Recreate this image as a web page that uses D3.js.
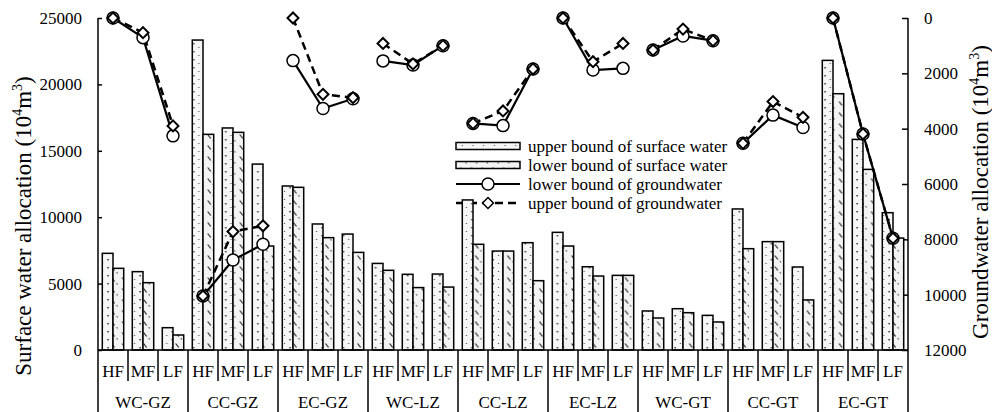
<!DOCTYPE html>
<html>
<head>
<meta charset="utf-8">
<script src="https://cdn.jsdelivr.net/npm/d3@7"></script>
<style>
  body { margin: 0; background: #fff; }
  svg text { font-family: "Liberation Serif", "Times New Roman", serif; fill: #000; }
</style>
</head>
<body>
<svg id="chart"></svg>
<script>
var groups = ["WC-GZ", "CC-GZ", "EC-GZ", "WC-LZ", "CC-LZ", "EC-LZ", "WC-GT", "CC-GT", "EC-GT"];
var subs = ["HF", "MF", "LF"];

// surface water (left axis), one value per group x sub
var surfaceUpper = [7280, 5900, 1680, 23340, 16720, 14000, 12350, 9490, 8730,
                    6520, 5700, 5720, 11300, 7450, 8080, 8860, 6270, 5620,
                    2940, 3110, 2610, 10620, 8160, 6250, 21810, 15860, 10340];
var surfaceLower = [6150, 5070, 1130, 16240, 16390, 7830, 12250, 8460, 7350,
                    6000, 4700, 4740, 7960, 7450, 5220, 7830, 5570, 5620,
                    2410, 2810, 2110, 7630, 8160, 3770, 19300, 13600, 8430];

// groundwater (right axis, reversed)
var groundLower = [0, 710, 4260, 10050, 8750, 8180, 1540, 3270, 2920,
                   1550, 1700, 1000, 3810, 3890, 1840, 0, 1880, 1820,
                   1160, 650, 820, 4530, 3510, 3960, 0, 4190, 7960];
var groundUpper = [0, 530, 3900, 10050, 7720, 7510, 0, 2760, 2880,
                   920, 1660, 1000, 3810, 3360, 1840, 0, 1580, 920,
                   1160, 400, 820, 4530, 3020, 3590, 0, 4190, 7960];

var leftTicks = [0, 5000, 10000, 15000, 20000, 25000];
var rightTicks = [0, 2000, 4000, 6000, 8000, 10000, 12000];

var width = 992;
var height = 412;
var margin = {top: 18, right: 84, bottom: 62, left: 98};
var plotBottom = height - margin.bottom;
var plotRight = width - margin.right;

var svg = d3.select("#chart")
  .attr("width", width)
  .attr("height", height);

// keys for the 27 categories
var keys = [];
groups.forEach(function(g) {
  subs.forEach(function(s) { keys.push(g + "|" + s); });
});

var x = d3.scaleBand()
  .domain(keys)
  .range([margin.left, plotRight]);

var xs = d3.scaleBand()
  .domain(["upper", "lower"])
  .range([0, x.bandwidth()])
  .paddingOuter(0.4);

var y = d3.scaleLinear()
  .domain([0, 25000])
  .range([plotBottom, margin.top]);

var y2 = d3.scaleLinear()
  .domain([0, 12000])
  .range([margin.top, plotBottom]);

// patterns
var defs = svg.append("defs");
var pUp = defs.append("pattern")
  .attr("id", "pUp")
  .attr("patternUnits", "userSpaceOnUse")
  .attr("width", 10.7).attr("height", 8);
pUp.append("rect").attr("width", 10.7).attr("height", 8).attr("fill", "#f6f6f6");
pUp.append("rect").attr("x", 0.4).attr("y", 3).attr("width", 1.4).attr("height", 1.4).attr("fill", "#222");
pUp.append("rect").attr("x", 5.7).attr("y", 7).attr("width", 1.2).attr("height", 1.2).attr("fill", "#555");

var pLow = defs.append("pattern")
  .attr("id", "pLow")
  .attr("patternUnits", "userSpaceOnUse")
  .attr("width", 10.7).attr("height", 11);
pLow.append("rect").attr("width", 10.7).attr("height", 11).attr("fill", "#f3f3f3");
pLow.append("path").attr("d", "M4.5,2.5 L7.5,6.5").attr("stroke", "#222").attr("stroke-width", 1.2);
pLow.append("path").attr("d", "M9.5,8 L10.7,9.6").attr("stroke", "#555").attr("stroke-width", 1);

var fmt = d3.format("d");

// axes
var yAxis = d3.axisLeft(y)
  .tickValues(leftTicks)
  .tickFormat(fmt)
  .tickSizeInner(-4)
  .tickSizeOuter(0)
  .tickPadding(16);

svg.append("g")
  .attr("id", "y")
  .attr("transform", "translate(" + margin.left + ",0)")
  .call(yAxis)
  .call(function(g) {
    g.select(".domain").remove();
    g.selectAll("text").style("font-size", "17px");
    g.selectAll("line").attr("stroke-width", 1.5);
  });

var y2Axis = d3.axisRight(y2)
  .tickValues(rightTicks)
  .tickFormat(fmt)
  .tickSizeInner(-6)
  .tickSizeOuter(0)
  .tickPadding(16);

svg.append("g")
  .attr("id", "y2")
  .attr("transform", "translate(" + plotRight + ",0)")
  .call(y2Axis)
  .call(function(g) {
    g.select(".domain").remove();
    g.selectAll("text").style("font-size", "17px");
    g.selectAll("line").attr("stroke-width", 1.5);
  });

// legend (drawn under the bars, like the reference)
var legendItems = [
  {label: "upper bound of surface water", type: "bar", fill: "url(#pUp)"},
  {label: "lower bound of surface water", type: "bar", fill: "url(#pLow)"},
  {label: "lower bound of groundwater", type: "circle"},
  {label: "upper bound of groundwater", type: "diamond"}
];

var legend = svg.append("g").attr("transform", "translate(456,146)");
var row = legend.selectAll("g").data(legendItems).enter().append("g")
  .attr("transform", function(d, i) { return "translate(0," + (i * 19) + ")"; });

row.filter(function(d) { return d.type === "bar"; })
  .append("rect")
  .attr("x", 0).attr("y", -3.5).attr("width", 64).attr("height", 7)
  .attr("fill", function(d) { return d.fill; })
  .attr("stroke", "#000").attr("stroke-width", 1.5);

row.filter(function(d) { return d.type !== "bar"; })
  .append("line")
  .attr("x1", 0).attr("x2", 64)
  .attr("stroke", "#000")
  .attr("stroke-width", function(d) { return d.type === "circle" ? 2 : 2.5; })
  .attr("stroke-dasharray", function(d) { return d.type === "circle" ? null : "8,5"; });

row.filter(function(d) { return d.type === "circle"; })
  .append("circle")
  .attr("cx", 32).attr("r", 6)
  .attr("fill", "#fff").attr("stroke", "#000").attr("stroke-width", 1.5);

row.filter(function(d) { return d.type === "diamond"; })
  .append("path")
  .attr("d", d3.symbol(d3.symbolSquare, 60)())
  .attr("transform", "translate(32,0) rotate(45)")
  .attr("fill", "#fff").attr("stroke", "#000").attr("stroke-width", 1.5);

row.append("text")
  .attr("x", 72).attr("y", 5.5)
  .style("font-size", "17px")
  .text(function(d) { return d.label; });

// bars
var barData = [];
keys.forEach(function(k, i) {
  barData.push({key: k, series: "upper", value: surfaceUpper[i]});
  barData.push({key: k, series: "lower", value: surfaceLower[i]});
});

svg.append("g").attr("id", "shapes").selectAll(".bar")
  .data(barData)
  .enter().append("rect")
  .attr("class", "bar")
  .attr("x", function(d) { return x(d.key) + xs(d.series); })
  .attr("width", xs.bandwidth())
  .attr("y", function(d) { return y(d.value); })
  .attr("height", function(d) { return plotBottom - y(d.value); })
  .attr("fill", function(d) { return d.series === "upper" ? "url(#pUp)" : "url(#pLow)"; })
  .attr("stroke", "#000")
  .attr("stroke-width", 1.5);

// axis frame lines
var frame = svg.append("g").attr("stroke", "#000").attr("stroke-width", 1.5);
frame.append("line").attr("x1", margin.left).attr("x2", margin.left).attr("y1", margin.top).attr("y2", height);
frame.append("line").attr("x1", plotRight).attr("x2", plotRight).attr("y1", margin.top).attr("y2", height);
frame.append("line").attr("x1", margin.left).attr("x2", plotRight).attr("y1", plotBottom).attr("y2", plotBottom);

// category separators
keys.forEach(function(k, i) {
  if (i === 0) return;
  var isGroup = i % 3 === 0;
  frame.append("line")
    .attr("x1", x(k)).attr("x2", x(k))
    .attr("y1", plotBottom)
    .attr("y2", isGroup ? height : plotBottom + 31);
});

// x labels
svg.append("g").selectAll("text")
  .data(keys)
  .enter().append("text")
  .attr("x", function(d) { return x(d) + x.bandwidth() / 2; })
  .attr("y", 377)
  .attr("text-anchor", "middle")
  .style("font-size", "17px")
  .text(function(d) { return d.split("|")[1]; });

svg.append("g").selectAll("text")
  .data(groups)
  .enter().append("text")
  .attr("x", function(d) { return x(d + "|MF") + x.bandwidth() / 2; })
  .attr("y", 408)
  .attr("text-anchor", "middle")
  .style("font-size", "17px")
  .text(function(d) { return d; });

// groundwater lines, one short line per group
var line = d3.line()
  .x(function(d) { return x(d.key) + x.bandwidth() / 2; })
  .y(function(d) { return y2(d.value); });

function seriesPoints(values) {
  return groups.map(function(g, gi) {
    return subs.map(function(s, si) {
      return {key: g + "|" + s, value: values[gi * 3 + si]};
    });
  });
}

var lowerPts = seriesPoints(groundLower);
var upperPts = seriesPoints(groundUpper);

var gw = svg.append("g");

gw.selectAll(".lowLine").data(lowerPts).enter().append("path")
  .attr("class", "lowLine")
  .attr("d", line)
  .attr("fill", "none").attr("stroke", "#000").attr("stroke-width", 2.2);

gw.selectAll(".upLine").data(upperPts).enter().append("path")
  .attr("class", "upLine")
  .attr("d", line)
  .attr("fill", "none").attr("stroke", "#000").attr("stroke-width", 2.5)
  .attr("stroke-dasharray", "8,5");

gw.selectAll(".lowDot").data(d3.merge(lowerPts)).enter().append("circle")
  .attr("class", "lowDot")
  .attr("cx", function(d) { return x(d.key) + x.bandwidth() / 2; })
  .attr("cy", function(d) { return y2(d.value); })
  .attr("r", 6)
  .attr("fill", "#fff").attr("stroke", "#000").attr("stroke-width", 1.5);

gw.selectAll(".upDot").data(d3.merge(upperPts)).enter().append("path")
  .attr("class", "upDot")
  .attr("d", d3.symbol(d3.symbolSquare, 60)())
  .attr("transform", function(d) {
    return "translate(" + (x(d.key) + x.bandwidth() / 2) + "," + y2(d.value) + ") rotate(45)";
  })
  .attr("fill", "#fff").attr("stroke", "#000").attr("stroke-width", 2);

// axis titles
function axisTitle(label, tx, ty) {
  var t = svg.append("text")
    .attr("transform", "translate(" + tx + "," + ty + ") rotate(-90)")
    .attr("text-anchor", "middle")
    .style("font-size", "23px");
  t.append("tspan").text(label + " (10");
  t.append("tspan").attr("dy", -9).style("font-size", "14px").text("4");
  t.append("tspan").attr("dy", 9).text("m");
  t.append("tspan").attr("dy", -9).style("font-size", "14px").text("3");
  t.append("tspan").attr("dy", 9).text(")");
}

axisTitle("Surface water allocation", 31, 226);
axisTitle("Groundwater allocation", 988, 192);
</script>
</body>
</html>
